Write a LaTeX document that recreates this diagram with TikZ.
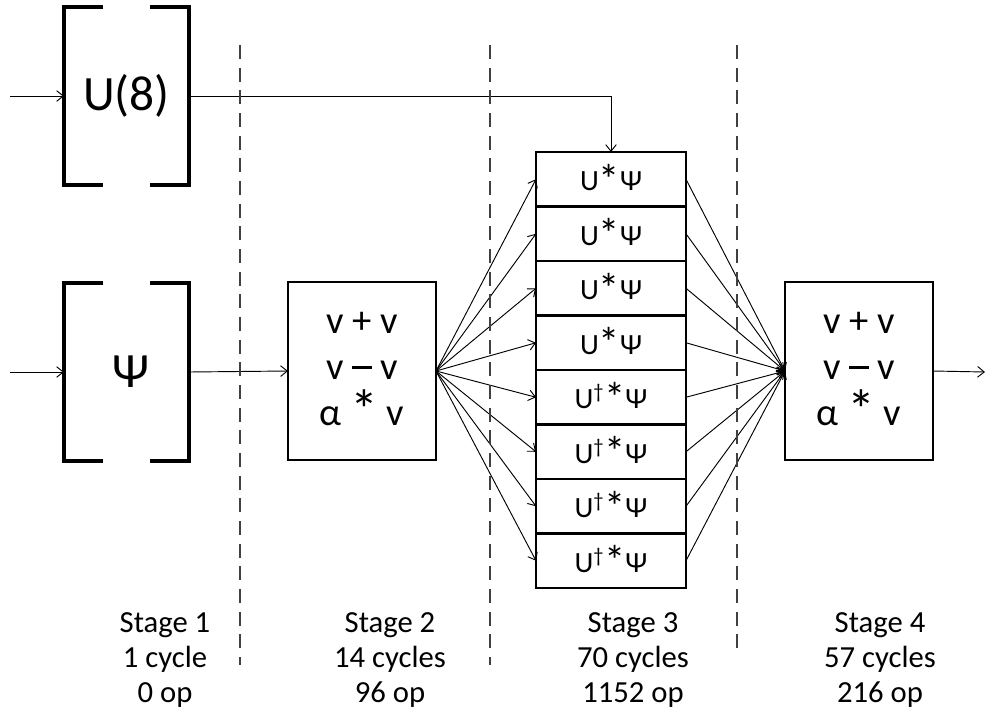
\documentclass[tikz,border=0pt]{standalone}
\usepackage{fontspec}
\setmainfont{Carlito}
\usetikzlibrary{arrows.meta}
\newcommand{\bigast}{\raisebox{-0.12em}{\scalebox{1.45}{*}}}
\newcommand{\longminus}{\raisebox{0.27em}{\rule{0.5em}{0.075em}}}
\begin{document}
\begin{tikzpicture}[x=0.75pt,y=-0.75pt,
  brk/.style={line width=2.3pt,line cap=butt},
  conn/.style={line width=0.7pt,-{Straight Barb[length=5pt,width=8pt,line width=0.7pt]}},
  opbox/.style={draw,line width=2.2pt,minimum width=111pt,minimum height=133.5pt,inner sep=0pt,outer sep=0pt,align=center,font=\fontsize{29}{34.5}\selectfont},
  cellbox/.style={draw,line width=2.2pt,minimum width=112.5pt,minimum height=40.9pt,inner sep=0pt,outer sep=0pt,font=\fontsize{22}{26}\selectfont},
  brkbox/.style={minimum width=93.75pt,minimum height=133.5pt,inner sep=0pt,outer sep=0pt,font=\fontsize{37}{40}\selectfont},
  stagedash/.style={line width=1.5pt,color=black!75,dash pattern=on 10.5pt off 6.5pt},
  stagelbl/.style={align=center,font=\fontsize{23}{26.5}\selectfont}]
\useasboundingbox (0,0) rectangle (985,715);
\fill[white] (0,0) rectangle (985,715);

% bracket boxes
\node[brkbox] (u8) at (126.5,96) {U(8)};
\draw[brk] (103,7) -| (64,185) -- (103,185);
\draw[brk] (150,7) -| (189,185) -- (150,185);
\node[brkbox] (psi) at (126.5,372) {\hspace{6pt}Ψ};
\draw[brk] (103,283) -| (64,461) -- (103,461);
\draw[brk] (150,283) -| (189,461) -- (150,461);

% stage 2 and 4 boxes
\node[opbox] (s2) at (362,371) {v + v\\v \longminus{} v\\α \bigast{} v};
\node[opbox] (s4) at (859,371) {v + v\\v \longminus{} v\\α \bigast{} v};

% stage 3 cells
\node[cellbox] (c1) at (611,179.25) {U\bigast Ψ};
\node[cellbox] (c2) at (611,233.75) {U\bigast Ψ};
\node[cellbox] (c3) at (611,288.25) {U\bigast Ψ};
\node[cellbox] (c4) at (611,342.75) {U\bigast Ψ};
\node[cellbox] (c5) at (611,397.25) {U\textsuperscript{†}\bigast Ψ};
\node[cellbox] (c6) at (611,451.75) {U\textsuperscript{†}\bigast Ψ};
\node[cellbox] (c7) at (611,506.25) {U\textsuperscript{†}\bigast Ψ};
\node[cellbox] (c8) at (611,560.75) {U\textsuperscript{†}\bigast Ψ};

% free ends
\coordinate (in1) at (10,96);
\coordinate (in2) at (10,372);
\coordinate (out) at (985,372);

% connectors
\draw[conn] (in1) -- (u8.west);
\draw[conn] (in2) -- (psi.west);
\draw[conn] (u8.east) -| (c1.north);
\draw[conn] (psi.east) -- (s2.west);
\foreach \i in {1,...,8} {
  \draw[conn] (s2.east) -- (c\i.west);
  \draw[conn] (c\i.east) -- (s4.west);
}
\draw[conn] (s4.east) -- (out);

% stage separators
\draw[stagedash] (240,45) -- (240,665);
\draw[stagedash] (490,45) -- (490,665);
\draw[stagedash] (737,45) -- (737,650);

% stage labels
\node[stagelbl] (l1) at (165,660) {Stage 1\\1 cycle\\0 op};
\node[stagelbl] (l2) at (390,660) {Stage 2\\14 cycles\\96 op};
\node[stagelbl] (l3) at (633,660) {Stage 3\\70 cycles\\1152 op};
\node[stagelbl] (l4) at (880,660) {Stage 4\\57 cycles\\216 op};
\end{tikzpicture}
\end{document}
